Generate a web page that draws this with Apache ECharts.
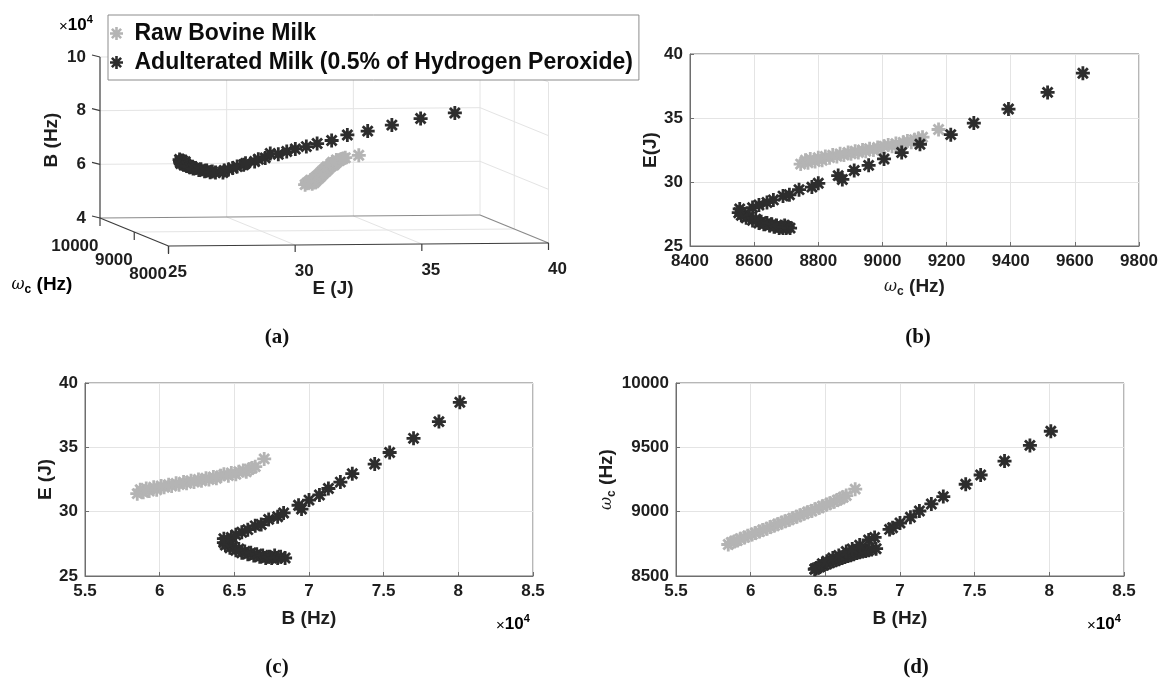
<!DOCTYPE html>
<html><head><meta charset="utf-8">
<script src="https://cdn.jsdelivr.net/npm/echarts@6/dist/echarts.min.js"></script>
<style>html,body{margin:0;padding:0;background:#fff}#c{width:1162px;height:682px}</style>
</head><body><div id="c"></div>
<script>
// ---------------- data ----------------
const SERIES_NAMES = ['Raw Bovine Milk', 'Adulterated Milk (0.5% of Hydrogen Peroxide)'];

// Raw bovine milk: B (Hz), E (J), omega_c (Hz)
const rawB = [58500,58700,58900,59100,59300,59600,59800,60100,60300,60600,60800,61100,61300,61600,61800,62100,62300,62600,62800,63100,63300,63600,63800,64100,64300,64600,64800,65100,65300,65600,65800,66000,66200,66400,67000];
const rawE = [31.4,31.7,31.5,31.8,31.6,31.9,31.7,32.0,31.9,32.1,32.0,32.2,32.1,32.3,32.2,32.4,32.3,32.5,32.4,32.6,32.5,32.7,32.6,32.8,32.9,32.8,33.0,32.9,33.1,33.2,33.1,33.3,33.4,33.5,34.1];
const rawW = [8745,8760,8768,8775,8790,8800,8812,8822,8835,8845,8858,8868,8880,8893,8902,8915,8925,8938,8948,8960,8972,8985,8995,9005,9018,9030,9042,9055,9065,9078,9090,9100,9112,9125,9175];

// Adulterated milk (0.5% H2O2): B (Hz), E (J), omega_c (Hz)
const adulB = [68400,68100,67900,67700,67500,67300,67100,66900,66700,66500,66300,66100,65900,65700,65500,65300,65100,64900,64700,64600,64400,64300,64300,64800,65100,65500,65900,66400,66800,67300,67900,68300,69500,69300,70000,70700,71300,72100,72900,74400,75400,77000,78700,80100];
const adulE = [26.4,26.5,26.4,26.6,26.4,26.5,26.4,26.6,26.5,26.7,26.6,26.8,26.7,26.9,26.8,27.1,27.0,27.3,27.2,27.5,27.4,27.6,27.9,28.0,28.2,28.4,28.6,28.9,29.0,29.4,29.6,29.9,30.2,30.5,30.9,31.3,31.8,32.3,32.95,33.7,34.6,35.7,37.0,38.5];
const adulW = [8712,8705,8700,8695,8690,8685,8678,8670,8662,8655,8648,8640,8630,8622,8615,8605,8595,8585,8575,8570,8560,8552,8555,8595,8615,8640,8660,8690,8710,8740,8780,8800,8875,8862,8912,8957,9005,9060,9117,9213,9285,9393,9515,9625];

// axis ticks
const E_TICKS = [25, 30, 35, 40];
const W_TICKS_3D = [8000, 9000, 10000];
const B_TICKS_3D = [40000, 60000, 80000, 100000];
const B_TICKS_2D = [55000, 60000, 65000, 70000, 75000, 80000, 85000];
const W_TICKS_2D = [8400, 8600, 8800, 9000, 9200, 9400, 9600, 9800];
const W_TICKS_D = [8500, 9000, 9500, 10000];

// ---------------- styles ----------------
const COLORS = ['#b4b4b4', '#2d2d2d'];
const FONT = '"Liberation Sans", Arial, sans-serif';
const TXT = '#1e1e1e';
const FRAME = '#6e6e6e';
const GRIDC = '#e4e4e4';
const STAR = 'path://M8 0L12 0L12 20L8 20ZM0 8L20 8L20 12L0 12ZM4.34 1.51L18.49 15.66L15.66 18.49L1.51 4.34ZM18.49 4.34L4.34 18.49L1.51 15.66L15.66 1.51Z';
const MS = 14;

// 3D projection layout (pixels): origin = back-left-bottom corner
const BOX = {ox: 100, oy: 218, ex: 380, ey: -3, wx: 68.5, wy: 28, bx: 0, by: -161};
function proj(e, w, b) {
  const fe = (e - E_TICKS[0]) / (E_TICKS[E_TICKS.length - 1] - E_TICKS[0]);
  const fw = (W_TICKS_3D[W_TICKS_3D.length - 1] - w) / (W_TICKS_3D[W_TICKS_3D.length - 1] - W_TICKS_3D[0]);
  const fb = (b - B_TICKS_3D[0]) / (B_TICKS_3D[B_TICKS_3D.length - 1] - B_TICKS_3D[0]);
  return [BOX.ox + fe * BOX.ex + fw * BOX.wx + fb * BOX.bx, BOX.oy + fe * BOX.ey + fw * BOX.wy + fb * BOX.by];
}
const e0 = E_TICKS[0], e1 = E_TICKS[E_TICKS.length - 1];
const w0 = W_TICKS_3D[0], w1 = W_TICKS_3D[W_TICKS_3D.length - 1];
const b0 = B_TICKS_3D[0], b1 = B_TICKS_3D[B_TICKS_3D.length - 1];

const segs = [];
function seg(a, c, kind) { const p = proj(a[0], a[1], a[2]), q = proj(c[0], c[1], c[2]); segs.push([p[0], p[1], q[0], q[1], kind]); }
// back wall
E_TICKS.slice(1).forEach(e => seg([e, w1, b0], [e, w1, b1], 0));
B_TICKS_3D.slice(1).forEach(b => seg([e0, w1, b], [e1, w1, b], 0));
// floor
E_TICKS.slice(1, -1).forEach(e => seg([e, w0, b0], [e, w1, b0], 0));
W_TICKS_3D.slice(1, -1).forEach(w => seg([e0, w, b0], [e1, w, b0], 0));
// right wall
W_TICKS_3D.slice(0, -1).forEach(w => seg([e1, w, b0], [e1, w, b1], 0));
B_TICKS_3D.slice(1).forEach(b => seg([e1, w0, b], [e1, w1, b], 0));
// edges
seg([e0, w1, b0], [e1, w1, b0], 2);
seg([e1, w0, b0], [e1, w1, b0], 2);
// axes
seg([e0, w1, b0], [e0, w1, b1], 1);
seg([e0, w0, b0], [e0, w1, b0], 1);
seg([e0, w0, b0], [e1, w0, b0], 1);
// ticks
E_TICKS.forEach(e => { const p = proj(e, w0, b0); segs.push([p[0], p[1], p[0], p[1] + 7, 1]); });
W_TICKS_3D.forEach(w => { const p = proj(e0, w, b0); segs.push([p[0], p[1], p[0], p[1] + 8, 1]); });
B_TICKS_3D.forEach(b => { const p = proj(e0, w1, b); segs.push([p[0], p[1], p[0] - 8, p[1] - 2, 1]); });

const SEG_STYLE = [{stroke: GRIDC, lineWidth: 1}, {stroke: '#3c3c3c', lineWidth: 1.2}, {stroke: '#8a8a8a', lineWidth: 1.2}];

// 3D tick labels (graphic)
const tickFont = 'bold 17px ' + FONT;
const g = [];
B_TICKS_3D.forEach(b => { const p = proj(e0, w1, b); g.push({type: 'text', x: p[0] - 14, y: p[1], style: {text: String(b / 1e4), font: tickFont, fill: TXT, align: 'right', verticalAlign: 'middle'}}); });
E_TICKS.forEach(e => { const p = proj(e, w0, b0); g.push({type: 'text', x: p[0] + 9, y: p[1] + 26, style: {text: String(e), font: tickFont, fill: TXT, align: 'center', verticalAlign: 'middle'}}); });
W_TICKS_3D.forEach(w => { const p = proj(e0, w, b0); g.push({type: 'text', x: p[0] - 1.5, y: p[1] + 28, style: {text: String(w), font: tickFont, fill: TXT, align: 'right', verticalAlign: 'middle'}}); });

const richW = {
  w: {fontFamily: '"DejaVu Serif", serif', fontStyle: 'italic', fontWeight: 'normal', fontSize: 16, color: TXT, lineHeight: 22, verticalAlign: 'middle'},
  c: {fontFamily: FONT, fontWeight: 'bold', fontSize: 12, color: TXT, lineHeight: 22, verticalAlign: 'bottom'},
  t: {fontFamily: FONT, fontWeight: 'bold', fontSize: 19, color: TXT, lineHeight: 22, verticalAlign: 'middle'}
};
const richX = {
  x: {fontFamily: FONT, fontWeight: 'normal', fontSize: 15, color: TXT, lineHeight: 20, verticalAlign: 'bottom'},
  t: {fontFamily: FONT, fontWeight: 'bold', fontSize: 17, color: TXT, lineHeight: 20, verticalAlign: 'bottom'},
  s: {fontFamily: FONT, fontWeight: 'bold', fontSize: 11, color: TXT, lineHeight: 20, verticalAlign: 'top'}
};
const nameFont = 'bold 19px ' + FONT;
g.push({type: 'text', x: 52, y: 140, rotation: Math.PI / 2, style: {text: 'B (Hz)', font: nameFont, fill: TXT, align: 'center', verticalAlign: 'middle'}});
g.push({type: 'text', x: 333, y: 289, style: {text: 'E (J)', font: nameFont, fill: TXT, align: 'center', verticalAlign: 'middle'}});
g.push({type: 'text', x: 42, y: 285, style: {text: '{w|ω}{c|c}{t| (Hz)}', rich: richW, align: 'center', verticalAlign: 'middle'}});
g.push({type: 'text', x: 76, y: 24, style: {text: '{x|×}{t|10}{s|4}', rich: richX, align: 'center', verticalAlign: 'middle'}});
g.push({type: 'text', x: 513, y: 623, style: {text: '{x|×}{t|10}{s|4}', rich: richX, align: 'center', verticalAlign: 'middle'}});
g.push({type: 'text', x: 1104, y: 623, style: {text: '{x|×}{t|10}{s|4}', rich: richX, align: 'center', verticalAlign: 'middle'}});
const capFont = 'bold 21px "Liberation Serif", "DejaVu Serif", serif';
[['(a)', 277, 338], ['(b)', 918, 338], ['(c)', 277, 668], ['(d)', 916, 668]].forEach(c => g.push({type: 'text', x: c[1], y: c[2], style: {text: c[0], font: capFont, fill: '#111', align: 'center', verticalAlign: 'middle'}}));

// ---------------- option ----------------
const axisLbl = {color: TXT, fontFamily: FONT, fontWeight: 'bold', fontSize: 17};
const nameStyle = {color: TXT, fontFamily: FONT, fontWeight: 'bold', fontSize: 19};
function vAxis(gi, min, max, interval, extra) {
  return Object.assign({
    type: 'value', gridIndex: gi, min: min, max: max, interval: interval,
    axisLine: {show: true, lineStyle: {color: FRAME, width: 1}},
    axisTick: {show: true, inside: true, length: 4, lineStyle: {color: FRAME}},
    splitLine: {show: true, lineStyle: {color: GRIDC, width: 1}},
    axisLabel: Object.assign({margin: 7, formatter: v => String(v)}, axisLbl),
    nameTextStyle: nameStyle, nameLocation: 'middle'
  }, extra || {});
}
const gridBox = {show: true, borderColor: FRAME, borderWidth: 1, backgroundColor: 'transparent'};

const grids = [
  {left: 0, top: 0, width: 1162, height: 682},
  Object.assign({left: 690, top: 54, width: 449, height: 192}, gridBox),
  Object.assign({left: 85, top: 383, width: 448, height: 193}, gridBox),
  Object.assign({left: 676, top: 383, width: 448, height: 193}, gridBox)
];

const bLabel = Object.assign({margin: 7, formatter: v => String(v / 1e4)}, axisLbl);
const xAxes = [
  {type: 'value', gridIndex: 0, min: 0, max: 1162, show: false},
  vAxis(1, W_TICKS_2D[0], W_TICKS_2D[W_TICKS_2D.length - 1], W_TICKS_2D[1] - W_TICKS_2D[0], {name: '{w|ω}{c|c}{t| (Hz)}', nameGap: 30, nameTextStyle: {rich: richW}}),
  vAxis(2, B_TICKS_2D[0], B_TICKS_2D[B_TICKS_2D.length - 1], B_TICKS_2D[1] - B_TICKS_2D[0], {name: 'B (Hz)', nameGap: 33, axisLabel: bLabel}),
  vAxis(3, B_TICKS_2D[0], B_TICKS_2D[B_TICKS_2D.length - 1], B_TICKS_2D[1] - B_TICKS_2D[0], {name: 'B (Hz)', nameGap: 33, axisLabel: bLabel})
];
const yAxes = [
  {type: 'value', gridIndex: 0, min: 0, max: 682, inverse: true, show: false},
  vAxis(1, E_TICKS[0], E_TICKS[E_TICKS.length - 1], E_TICKS[1] - E_TICKS[0], {name: 'E(J)', nameRotate: 90, nameGap: 28}),
  vAxis(2, E_TICKS[0], E_TICKS[E_TICKS.length - 1], E_TICKS[1] - E_TICKS[0], {name: 'E (J)', nameRotate: 90, nameGap: 28}),
  vAxis(3, W_TICKS_D[0], W_TICKS_D[W_TICKS_D.length - 1], W_TICKS_D[1] - W_TICKS_D[0], {name: '{w|ω}{c|c}{t| (Hz)}', nameRotate: 90, nameGap: 50, nameTextStyle: {rich: richW}})
];

function scat(name, color, ai, data, size) {
  return {type: 'scatter', name: name, xAxisIndex: ai, yAxisIndex: ai, data: data, symbol: STAR, symbolSize: size,
    itemStyle: {color: color, opacity: 1}, emphasis: {disabled: true}, silent: true, z: 3, clip: ai !== 0, animation: false};
}
const series = [];
series.push({
  type: 'custom', xAxisIndex: 0, yAxisIndex: 0, data: segs, encode: {x: [0, 2], y: [1, 3]}, z: 1, silent: true, clip: false,
  renderItem: function (params, api) {
    const p = api.coord([api.value(0), api.value(1)]);
    const q = api.coord([api.value(2), api.value(3)]);
    const st = SEG_STYLE[api.value(4)];
    return {type: 'line', shape: {x1: p[0], y1: p[1], x2: q[0], y2: q[1]}, style: {stroke: st.stroke, lineWidth: st.lineWidth}};
  }
});
const raw3 = rawB.map((b, i) => proj(rawE[i], rawW[i], b));
const adul3 = adulB.map((b, i) => proj(adulE[i], adulW[i], b));
series.push(scat(SERIES_NAMES[0], COLORS[0], 0, raw3, MS));
series.push(scat(SERIES_NAMES[1], COLORS[1], 0, adul3, MS));
series.push(scat(SERIES_NAMES[0], COLORS[0], 1, rawW.map((w, i) => [w, rawE[i]]), MS));
series.push(scat(SERIES_NAMES[1], COLORS[1], 1, adulW.map((w, i) => [w, adulE[i]]), MS));
series.push(scat(SERIES_NAMES[0], COLORS[0], 2, rawB.map((b, i) => [b, rawE[i]]), MS));
series.push(scat(SERIES_NAMES[1], COLORS[1], 2, adulB.map((b, i) => [b, adulE[i]]), MS));
series.push(scat(SERIES_NAMES[0], COLORS[0], 3, rawB.map((b, i) => [b, rawW[i]]), MS));
series.push(scat(SERIES_NAMES[1], COLORS[1], 3, adulB.map((b, i) => [b, adulW[i]]), MS));

const option = {
  animation: false,
  backgroundColor: '#ffffff',
  grid: grids, xAxis: xAxes, yAxis: yAxes, series: series,
  legend: {
    data: SERIES_NAMES.map(n => ({name: n, icon: STAR})),
    orient: 'vertical', left: 108, top: 15,
    padding: [7, 6, 6, 2], itemGap: 6, itemWidth: 26, itemHeight: 13,
    backgroundColor: '#ffffff', borderColor: '#8c8c8c', borderWidth: 1,
    textStyle: {color: '#0c0c0c', fontFamily: FONT, fontWeight: 'bold', fontSize: 23, lineHeight: 23},
    selectedMode: false, z: 10
  },
  graphic: g
};
const chart = echarts.init(document.getElementById('c'), null, {renderer: 'canvas'});
chart.setOption(option);
</script></body></html>
